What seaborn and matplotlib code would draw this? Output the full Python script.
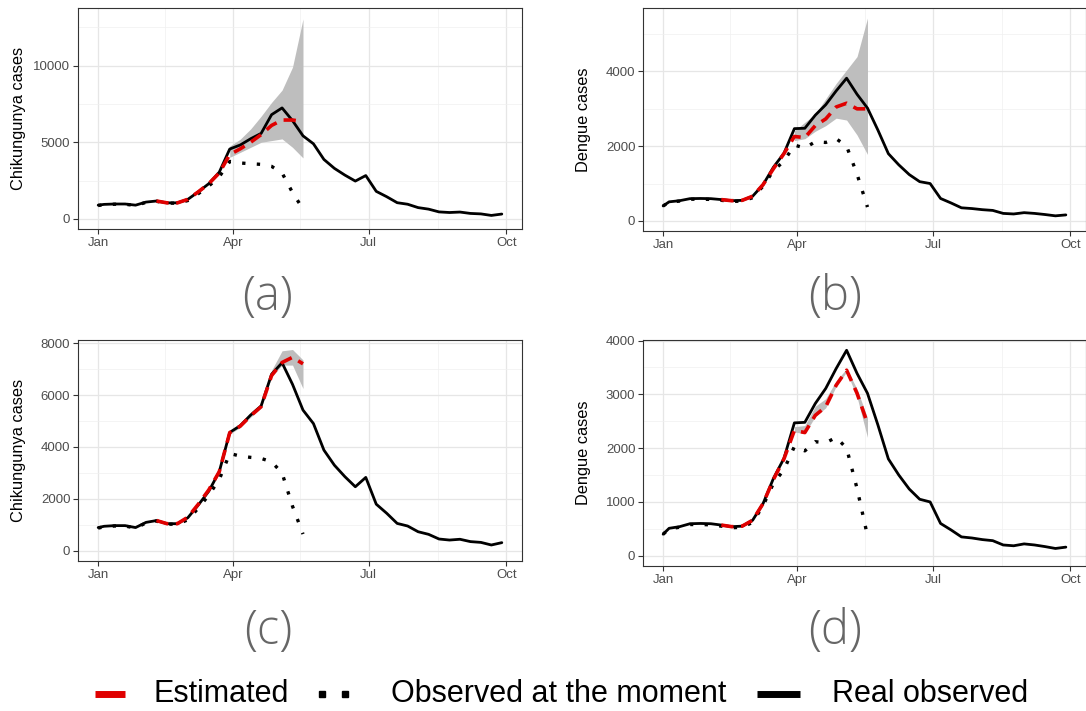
import numpy as np
import pandas as pd
import matplotlib
matplotlib.use("Agg")
import matplotlib.pyplot as plt
import matplotlib.dates as mdates
from matplotlib.ticker import MultipleLocator, FixedLocator
from matplotlib.lines import Line2D
import seaborn as sns

sns.set_theme(style="white")
plt.rcParams['font.family'] = ['Liberation Sans', 'DejaVu Sans']

# ---- data -------------------------------------------------------------
dates = pd.DatetimeIndex([pd.Timestamp('2017-01-01')]).append(
    pd.date_range('2017-01-05', periods=39, freq='7D'))

chik_real = [900, 950, 975, 975, 900, 1100, 1170, 1050, 1050, 1280, 1770, 2300, 3050,
             4560, 4820, 5230, 5580, 6800, 7240, 6410, 5420, 4900, 3880, 3300, 2860,
             2470, 2830, 1800, 1450, 1060, 960, 740, 640, 460, 420, 450, 360, 330, 230, 320]
chik_obs = [880, 930, 960, 960, 880, 1080, 1150, 1030, 1030, 1200, 1650, 2150, 2750,
            3750, 3650, 3600, 3560, 3430, 3000, 1720, 650]

# estimated (weeks 5..19) and intervals (weeks 12..19)
chik_est_a = [1170, 1050, 1050, 1280, 1770, 2300, 3000, 4200, 4570, 5000, 5500, 6100, 6450, 6450, 6350]
chik_lo_a = [4020, 4340, 4670, 5000, 5110, 5220, 4670, 3980]
chik_hi_a = [4750, 5200, 5870, 6700, 7600, 8400, 9900, 13040]

chik_est_c = [1170, 1050, 1050, 1300, 1800, 2350, 3050, 4550, 4800, 5200, 5550, 6750, 7250, 7450, 7200]
chik_lo_c = [4500, 4750, 5150, 5500, 6700, 7150, 7150, 6250]
chik_hi_c = [4620, 4880, 5300, 5650, 6950, 7700, 7750, 7350]

deng_real = [400, 510, 540, 595, 600, 595, 570, 540, 550, 660, 970, 1440, 1810,
             2470, 2480, 2830, 3110, 3480, 3820, 3390, 3020, 2430, 1800, 1500, 1240,
             1050, 1000, 600, 480, 350, 330, 300, 280, 200, 185, 220, 200, 170, 135, 160]
deng_obs = [400, 500, 530, 580, 580, 575, 550, 520, 530, 620, 930, 1350, 1600,
            2030, 1950, 2120, 2100, 2200, 2000, 1250, 370]

deng_est_b = [570, 540, 550, 660, 970, 1400, 1800, 2260, 2230, 2550, 2730, 3050, 3150, 3000, 3000]
deng_lo_b = [2150, 2200, 2400, 2550, 2750, 2700, 2300, 1780]
deng_hi_b = [2410, 2640, 2860, 3270, 3680, 4040, 4400, 5430]

deng_est_d = [570, 540, 550, 660, 970, 1420, 1800, 2330, 2290, 2610, 2770, 3170, 3450, 3020, 2460]
deng_lo_d = [2300, 2270, 2590, 2750, 3150, 3420, 2950, 2200]
deng_hi_d = [2400, 2420, 2780, 2920, 3250, 3480, 3100, 2560]

panel_tags = ['(a)', '(b)', '(c)', '(d)']
legend_labels = ['Estimated', 'Observed at the moment', 'Real observed']

RED = '#e00000'
BAND = '#bebebe'

W, H = 1086, 711
fig = plt.figure(figsize=(W / 100, H / 100), dpi=100)


def px_axes(left, top, right, bottom):
    return fig.add_axes([left / W, 1 - bottom / H, (right - left) / W, (bottom - top) / H])


def draw(ax, real, obs, est, lo, hi, ylabel, ylim, major, minor):
    ax.fill_between(dates[13:21], lo, hi, color=BAND, lw=0, zorder=1)
    sns.lineplot(x=dates[:21], y=obs, ax=ax, color='black', lw=2.4,
                 linestyle=(0, (1, 3.4)), estimator=None, zorder=2)
    sns.lineplot(x=dates, y=real, ax=ax, color='black', lw=2.0,
                 estimator=None, zorder=3)
    sns.lineplot(x=dates[6:21], y=est, ax=ax, color=RED, lw=2.6,
                 linestyle=(0, (3.4, 2.1)), estimator=None, zorder=4)
    start = mdates.date2num(pd.Timestamp('2017-01-01'))
    ax.set_xlim(start - 13.5, start + 283.5)
    ax.set_ylim(*ylim)
    ax.xaxis.set_major_locator(mdates.MonthLocator(bymonth=[1, 4, 7, 10]))
    ax.xaxis.set_major_formatter(mdates.DateFormatter('%b'))
    mids = [pd.Timestamp('2017-02-15'), pd.Timestamp('2017-05-16'), pd.Timestamp('2017-08-16')]
    ax.xaxis.set_minor_locator(FixedLocator(mdates.date2num(mids)))
    ax.yaxis.set_major_locator(MultipleLocator(major))
    ax.yaxis.set_minor_locator(MultipleLocator(minor))
    ax.grid(which='major', color='#e6e6e6', lw=0.9)
    ax.grid(which='minor', color='#f0f0f0', lw=0.5)
    ax.set_axisbelow(True)
    for s in ax.spines.values():
        s.set_color('#333333')
        s.set_linewidth(0.8)
    ax.tick_params(which='major', length=3.5, width=0.8, color='#333333',
                   labelsize=9.5, labelcolor='#4d4d4d', pad=2, left=True, bottom=True)
    ax.tick_params(which='minor', length=0)
    ax.set_xlabel('')
    ax.set_ylabel(ylabel, fontsize=11.8, color='black')
    ax.yaxis.set_label_coords(-0.117, 0.5)


ax_a = px_axes(78, 8, 522, 229)
ax_b = px_axes(643, 8, 1086, 231)
ax_c = px_axes(78, 340, 522, 561)
ax_d = px_axes(643, 340, 1086, 566)

draw(ax_a, chik_real, chik_obs, chik_est_a, chik_lo_a, chik_hi_a,
     'Chikungunya cases', (-655, 13755), 5000, 2500)
draw(ax_b, deng_real, deng_obs, deng_est_b, deng_lo_b, deng_hi_b,
     'Dengue cases', (-271, 5700), 2000, 1000)
draw(ax_c, chik_real, chik_obs, chik_est_c, chik_lo_c, chik_hi_c,
     'Chikungunya cases', (-386, 8116), 2000, 1000)
draw(ax_d, deng_real, deng_obs, deng_est_d, deng_lo_d, deng_hi_d,
     'Dengue cases', (-191, 4011), 1000, 500)

for tag, (cx, cy) in zip(panel_tags, [(268, 298), (835, 298), (268, 632), (835, 632)]):
    fig.text(cx / W, 1 - cy / H, tag, fontsize=34, color='#666666', ha='center',
             va='center', family=['Open Sans', 'DejaVu Sans'], fontweight='light')

# legend
ly = 1 - 694 / H
fig.add_artist(Line2D([95 / W, 125 / W], [ly, ly], color=RED, lw=5, solid_capstyle='butt'))
fig.add_artist(Line2D([322 / W, 345 / W], [ly, ly], ls='none', marker='s', ms=4.5,
                      color='black', mec='black'))
fig.add_artist(Line2D([757 / W, 800 / W], [ly, ly], color='black', lw=5, solid_capstyle='butt'))
for lab, lx in zip(legend_labels, [153, 391, 832]):
    fig.text(lx / W, ly, lab, fontsize=22, color='black', ha='left', va='center')

fig.savefig('out.png', dpi=100)
